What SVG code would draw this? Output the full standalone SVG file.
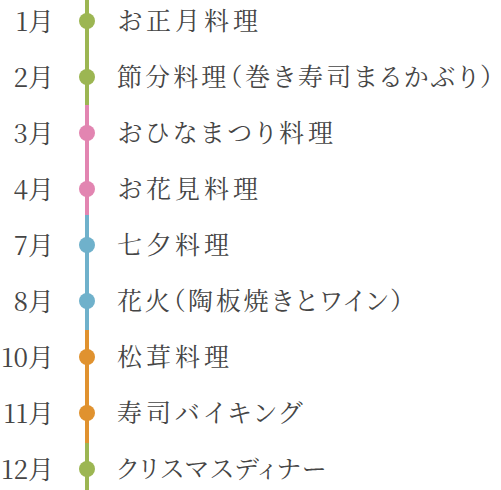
<svg xmlns="http://www.w3.org/2000/svg" width="501" height="490" viewBox="0 0 501 490">
<style>
.m{font-family:"Noto Serif CJK JP","Liberation Serif","Noto Sans CJK JP",serif;font-size:26px;fill:#454545;text-anchor:end}
.t{font-family:"Noto Serif CJK JP","Noto Sans CJK JP",serif;font-size:25px;fill:#454545;letter-spacing:4px;font-feature-settings:"palt"}
.g{fill:#9cb652}.p{fill:#e285b1}.b{fill:#6fb1cb}.o{fill:#e0922f}
</style>
<g id="connectors">
<rect x="85" y="0" width="4" height="105" class="g"/>
<rect x="85" y="105" width="4" height="110" class="p"/>
<rect x="85" y="215" width="4" height="115" class="b"/>
<rect x="85" y="330" width="4" height="113" class="o"/>
<rect x="85" y="443" width="4" height="47" class="g"/>
</g>
<g id="n1"><circle cx="87" cy="21" r="8" class="g"/><text class="m" x="54" y="31">1月</text><text class="t" x="117" y="30">お正月料理</text></g>
<g id="n2"><circle cx="87" cy="77" r="8" class="g"/><text class="m" x="54" y="87">2月</text><text class="t" x="117" y="86" textLength="380" lengthAdjust="spacing">節分料理（巻き寿司まるかぶり）</text></g>
<g id="n3"><circle cx="87" cy="133" r="8" class="p"/><text class="m" x="54" y="143">3月</text><text class="t" x="117" y="142">おひなまつり料理</text></g>
<g id="n4"><circle cx="87" cy="189" r="8" class="p"/><text class="m" x="54" y="199">4月</text><text class="t" x="117" y="198">お花見料理</text></g>
<g id="n7"><circle cx="87" cy="245" r="8" class="b"/><text class="m" x="54" y="255">7月</text><text class="t" x="117" y="254">七夕料理</text></g>
<g id="n8"><circle cx="87" cy="301" r="8" class="b"/><text class="m" x="54" y="311">8月</text><text class="t" x="117" y="310" textLength="290" lengthAdjust="spacing">花火（陶板焼きとワイン）</text></g>
<g id="n10"><circle cx="87" cy="357" r="8" class="o"/><text class="m" x="54" y="367">10月</text><text class="t" x="117" y="366">松茸料理</text></g>
<g id="n11"><circle cx="87" cy="413" r="8" class="o"/><text class="m" x="54" y="423">11月</text><text class="t" x="117" y="422">寿司バイキング</text></g>
<g id="n12"><circle cx="87" cy="469" r="8" class="g"/><text class="m" x="54" y="479">12月</text><text class="t" x="117" y="478" textLength="213" lengthAdjust="spacing">クリスマスディナー</text></g>
</svg>
